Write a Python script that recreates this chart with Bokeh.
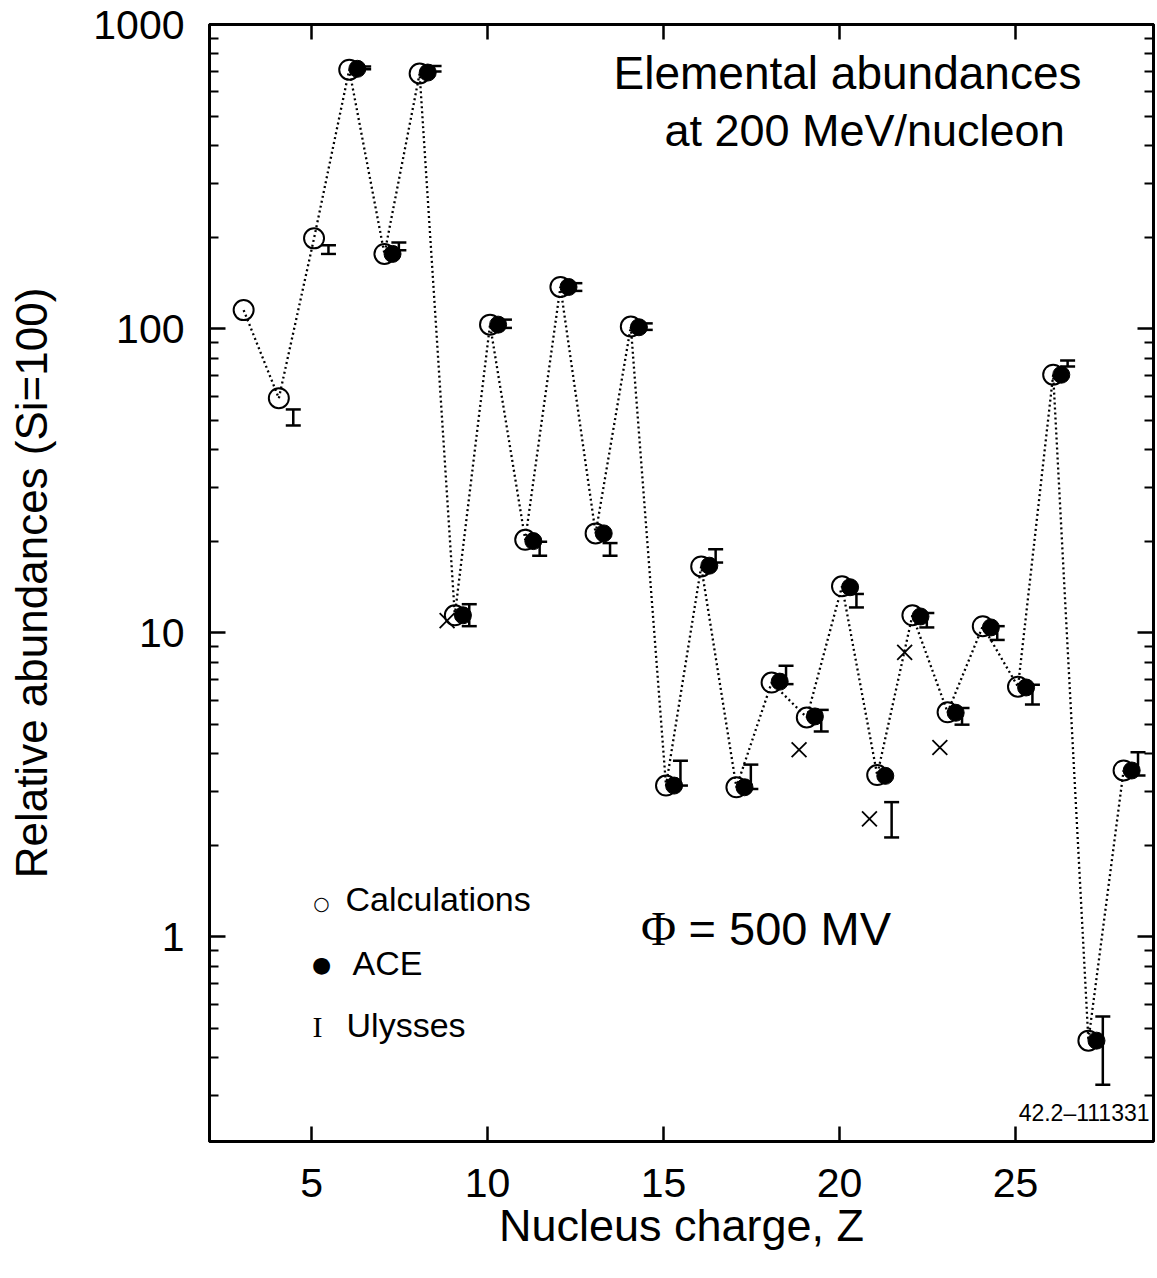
from bokeh.plotting import figure
from bokeh.models import (Range1d, LogAxis, LinearAxis, FixedTicker, Label,
                          Whisker, TeeHead, ColumnDataSource,
                          CustomJSTickFormatter)
from bokeh.embed import file_html
from bokeh.resources import INLINE

# ---------------- data ----------------
calc_z = [3, 4, 5, 6, 7, 8, 9, 10, 11, 12, 13, 14, 15, 16, 17, 18, 19, 20,
          21, 22, 23, 24, 25, 26, 27, 28]
calc_val = [115, 59, 198, 710, 176, 690, 11.4, 103, 20.2, 137, 21.2, 101.5,
            3.14, 16.5, 3.10, 6.85, 5.26, 14.2, 3.40, 11.4, 5.47, 10.5, 6.64,
            70.5, 0.455, 3.52]

ace_z = [6, 7, 8, 9, 10, 11, 12, 13, 14, 15, 16, 17, 18, 19, 20, 21, 22, 23,
         24, 25, 26, 27, 28]
ace_val = [715, 176, 695, 11.4, 103, 20.0, 137, 21.2, 101, 3.14, 16.6, 3.10,
           6.9, 5.3, 14.1, 3.38, 11.3, 5.45, 10.4, 6.6, 70.5, 0.455, 3.52]

uly_z = [4, 5, 6, 7, 8, 9, 10, 11, 12, 13, 14, 15, 16, 17, 18, 19, 20, 21,
         22, 23, 24, 25, 26, 27, 28]
uly_lo = [48.0, 176, 713, 181, 700, 10.5, 100.5, 17.9, 133, 17.9, 99, 3.14,
          17.0, 3.06, 6.77, 4.73, 12.1, 2.12, 10.4, 4.98, 9.46, 5.80, 75,
          0.326, 3.39]
uly_hi = [54.2, 188, 728, 192, 730, 12.4, 107, 19.9, 141, 19.7, 104, 3.79,
          18.8, 3.68, 7.78, 5.57, 13.4, 2.77, 11.6, 5.65, 10.5, 6.74, 78.5,
          0.546, 4.04]

x_z = [9, 19, 21, 22, 23]
x_val = [10.95, 4.12, 2.44, 8.61, 4.19]

x_ticks = [5, 10, 15, 20, 25]
y_ticks = [1, 10, 100, 1000]

# ---------------- layout helpers ----------------
X0, X1 = 2.10, 28.92
Y0, Y1 = 0.212, 1000.0
FRAME_T, PX_PER_Z, PX_PER_DEC = 24, 35.2, 304.0


def px2x(px):
    return 5 + (px - 311) / PX_PER_Z


def py2y(py):
    return 10 ** (3 - (py - FRAME_T) / PX_PER_DEC)


OFF_CALC, OFF_ACE, OFF_ULY, OFF_X = 0.07, 0.30, 0.48, -0.15

SANS = "Liberation Sans"
SERIF = "Liberation Serif"

p = figure(width=1157, height=1278, x_range=Range1d(X0, X1),
           y_range=Range1d(Y0, Y1), y_axis_type="log",
           output_backend="svg", toolbar_location=None,
           min_border_left=209, min_border_right=4, min_border_top=24,
           min_border_bottom=137)

p.background_fill_color = "white"
p.border_fill_color = "white"
p.outline_line_color = "black"
p.outline_line_width = 3
p.xgrid.visible = False
p.ygrid.visible = False

minor_y = []
for dec in [0.1, 1, 10, 100]:
    for k in range(2, 10):
        v = dec * k
        if Y0 <= v <= Y1:
            minor_y.append(v)

# bottom axis
xa = p.xaxis[0]
xa.ticker = FixedTicker(ticks=x_ticks, minor_ticks=[])
xa.axis_label = "Nucleus charge, Z"
xa.axis_label_text_font = SANS
xa.axis_label_text_font_size = "45px"
xa.axis_label_text_font_style = "normal"
xa.axis_label_text_color = "black"
xa.axis_label_standoff = 0
xa.major_label_text_font = SANS
xa.major_label_text_font_size = "41px"
xa.major_label_text_color = "black"
xa.major_label_standoff = 27
xa.major_tick_in = 15
xa.major_tick_out = 0
xa.major_tick_line_width = 2.5
xa.axis_line_width = 3

# left axis
ya = p.yaxis[0]
ya.ticker = FixedTicker(ticks=y_ticks, minor_ticks=minor_y)
ya.axis_label = "Relative abundances (Si=100)"
ya.axis_label_text_font = SANS
ya.axis_label_text_font_size = "44px"
ya.axis_label_text_font_style = "normal"
ya.axis_label_text_color = "black"
ya.axis_label_standoff = 34
ya.major_label_text_font = SANS
ya.major_label_text_font_size = "41px"
ya.major_label_text_color = "black"
ya.major_label_standoff = 25
ya.major_label_overrides = {1: "1", 10: "10", 100: "100", 1000: "1000"}
ya.major_tick_in = 16
ya.major_tick_out = 0
ya.minor_tick_in = 9
ya.minor_tick_out = 0
ya.major_tick_line_width = 2.5
ya.minor_tick_line_width = 2
ya.axis_line_width = 3

blank = CustomJSTickFormatter(code="return ' ';")

# top axis (ticks only)
top = LinearAxis(ticker=FixedTicker(ticks=x_ticks, minor_ticks=[]),
                 formatter=blank)
top.major_label_text_font_size = "1px"
top.major_label_standoff = 0
top.major_tick_in = 15
top.major_tick_out = 0
top.major_tick_line_width = 2.5
top.axis_line_width = 3
p.add_layout(top, "above")

# right axis (ticks only)
right = LogAxis(ticker=FixedTicker(ticks=y_ticks, minor_ticks=minor_y),
                formatter=blank)
right.major_label_text_font_size = "1px"
right.major_label_standoff = 0
right.major_tick_in = 16
right.major_tick_out = 0
right.minor_tick_in = 9
right.minor_tick_out = 0
right.major_tick_line_width = 2.5
right.minor_tick_line_width = 2
right.axis_line_width = 3
p.add_layout(right, "right")

# ---------------- glyphs ----------------
calc_src = ColumnDataSource(dict(x=[z + OFF_CALC for z in calc_z], y=calc_val))
ace_src = ColumnDataSource(dict(x=[z + OFF_ACE for z in ace_z], y=ace_val))
uly_src = ColumnDataSource(dict(x=[z + OFF_ULY for z in uly_z],
                                lo=uly_lo, hi=uly_hi))
x_src = ColumnDataSource(dict(x=[z + OFF_X for z in x_z], y=x_val))

p.line("x", "y", source=calc_src, line_color="black", line_width=2.3,
       line_dash="2 3")
p.scatter("x", "y", source=calc_src, marker="circle", size=20,
          fill_color=None, line_color="black", line_width=2)
p.scatter("x", "y", source=ace_src, marker="circle", size=17,
          fill_color="black", line_color="black", line_width=1)
p.scatter("x", "y", source=x_src, marker="x", size=21,
          line_color="black", line_width=1.8)

wh = Whisker(source=uly_src, base="x", lower="lo", upper="hi",
             dimension="height", line_width=2.5, line_color="black",
             upper_head=TeeHead(size=15, line_width=2.5, line_color="black"),
             lower_head=TeeHead(size=15, line_width=2.5, line_color="black"))
p.add_layout(wh)


# ---------------- texts ----------------
def lab(text, px, py, size, font=SANS, align="left", baseline="middle"):
    p.add_layout(Label(x=px2x(px), y=py2y(py), text=text,
                       text_font=font, text_font_size=size,
                       text_align=align, text_baseline=baseline,
                       text_color="black"))


lab("Elemental abundances", 847, 72, "46px", align="center")
lab("at 200 MeV/nucleon", 864, 130, "45px", align="center")

lab("\u03a6", 658, 928, "48px", font=SERIF, align="center")
lab("= 500 MV", 688, 928, "47px")

lab("\u25cb", 321, 902, "19px", font="DejaVu Sans", align="center")
lab("Calculations", 345, 898, "34px")
lab("\u25cf", 321, 964, "22px", font="DejaVu Sans", align="center")
lab("ACE", 352, 962, "34px")
lab("I", 317, 1026, "30px", font=SERIF, align="center")
lab("Ulysses", 346, 1024, "34px")

lab("42.2\u2013111331", 1149, 1112, "23px", align="right",
    baseline="alphabetic")

open("out.html", "w").write(file_html(p, INLINE))
